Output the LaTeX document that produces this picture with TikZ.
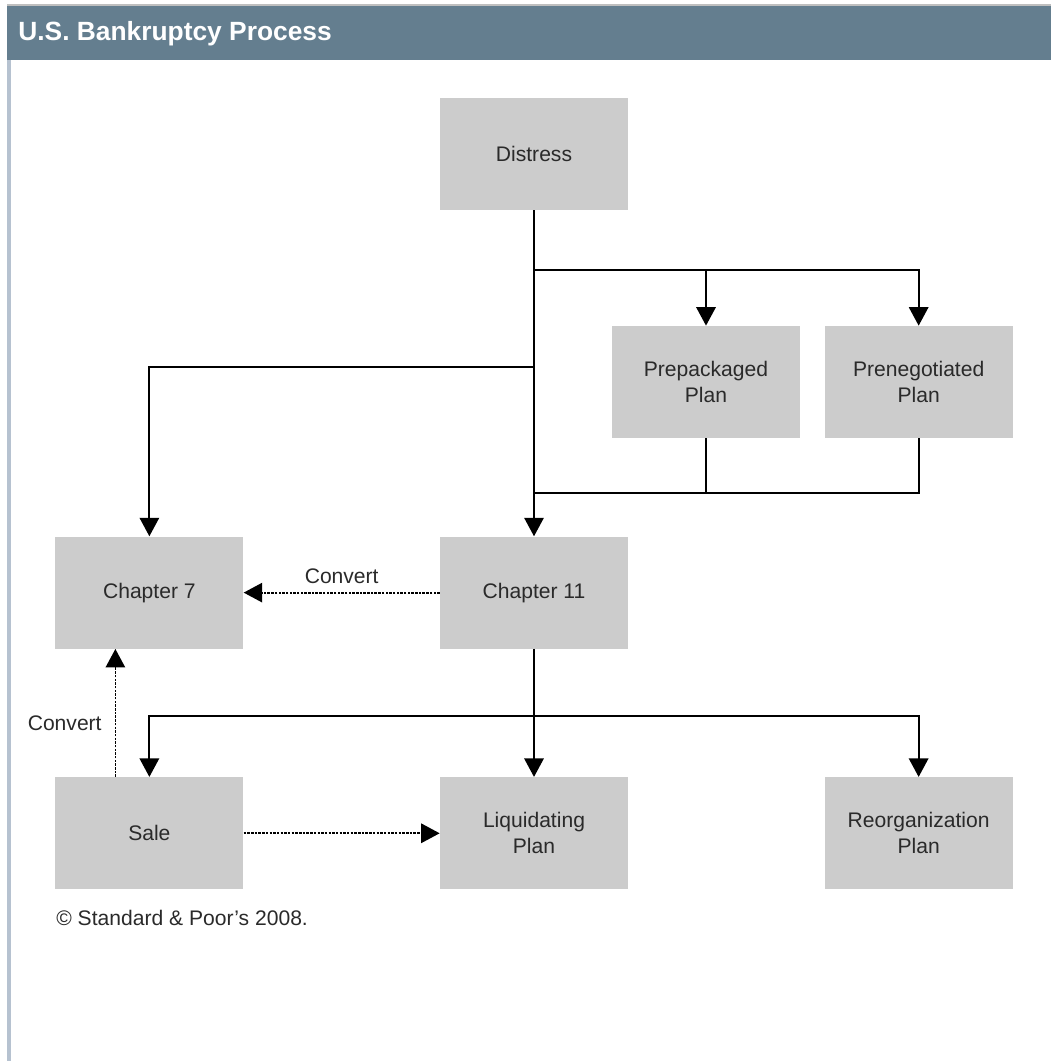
\documentclass[tikz,border=0pt]{standalone}
\usepackage{fontspec}
\setmainfont{Liberation Sans}
\usepackage{xcolor}
\usepackage{tikz}
\usetikzlibrary{arrows.meta, positioning}
\definecolor{headblue}{HTML}{647E8F}
\definecolor{boxgray}{HTML}{CCCCCC}
\definecolor{edgeblue}{HTML}{B6C2D0}
\definecolor{textgray}{HTML}{2A2A2A}
\tikzstyle{line} = [line width=1.1pt, black]
\tikzstyle{arrow} = [line width=1.1pt, -{Triangle[width=11pt,length=10.5pt]}]
\tikzstyle{dotarrow} = [line width=1pt, dash pattern=on 1.4pt off 0.7pt, -{Triangle[width=11pt,length=10.5pt]}]

\begin{document}
\begin{tikzpicture}[
			x=0.02cm, y=-0.02cm,
			block/.style={fill=boxgray, minimum width=3.76cm, minimum height=2.24cm, inner sep=0pt,
				align=center, text=textgray, font=\fontsize{12}{14.8}\selectfont},
			note/.style={text=textgray, font=\fontsize{12}{14.8}\selectfont}
			]
			\useasboundingbox (0,0) rectangle (1051,1061);
			
			% Frame and title bar
			\fill[edgeblue] (7,58) rectangle (11,1061);
			\fill[headblue] (7,6) rectangle (1051,60);
			\draw[gray!50, line width=0.6pt] (7,5) -- (1051,5);
			\node[anchor=base west, inner sep=0pt, text=white, font=\fontsize{15}{18}\selectfont\bfseries] (title) at (18,41) {U.S. Bankruptcy Process};
			
			% Boxes
			\node[block] (distress) at (534,154) {Distress};
			\node[block] (prepack) at (706,382) {Prepackaged\\Plan};
			\node[block, right=0.48cm of prepack] (preneg) {Prenegotiated\\Plan};
			\node[block, below=6.52cm of distress] (ch11) {Chapter 11};
			\node[block, left=3.92cm of ch11] (ch7) {Chapter 7};
			\node[block, below=2.56cm of ch11] (liq) {Liquidating\\Plan};
			\node[block, left=3.92cm of liq] (sale) {Sale};
			\node[block, right=3.92cm of liq] (reorg) {Reorganization\\Plan};
			
			% Branch points on the main line
			\coordinate (fork) at (534,270);
			\coordinate (branch) at (534,367);
			\coordinate (join) at (534,493);
			\coordinate (split) at (534,716);
			
			% Connectors
			\draw[arrow] (distress) -- (ch11);
			\draw[arrow] (fork) -| (prepack.north);
			\draw[arrow] (fork) -| (preneg.north);
			\draw[arrow] (branch) -| (ch7.north);
			\draw[line] (prepack.south) |- (join);
			\draw[line] (preneg.south) |- (join);
			\draw[dotarrow] (ch11) -- node[note, above=1pt] (conv1) {Convert} (ch7);
			
			\draw[arrow] (ch11) -- (liq);
			\draw[arrow] (split) -| (sale.north);
			\draw[arrow] (split) -| (reorg.north);
			\draw[dotarrow] ([xshift=-0.68cm]sale.north) -- node[note, pos=0.42, left=4pt] (conv2) {Convert} ([xshift=-0.68cm]ch7.south);
			\draw[dotarrow] (sale) -- (liq);
			
			% Source line
			\node[note, anchor=west, inner sep=0pt] (source) at (56,918) {© Standard \& Poor's 2008.};
			
		\end{tikzpicture}
\end{document}
